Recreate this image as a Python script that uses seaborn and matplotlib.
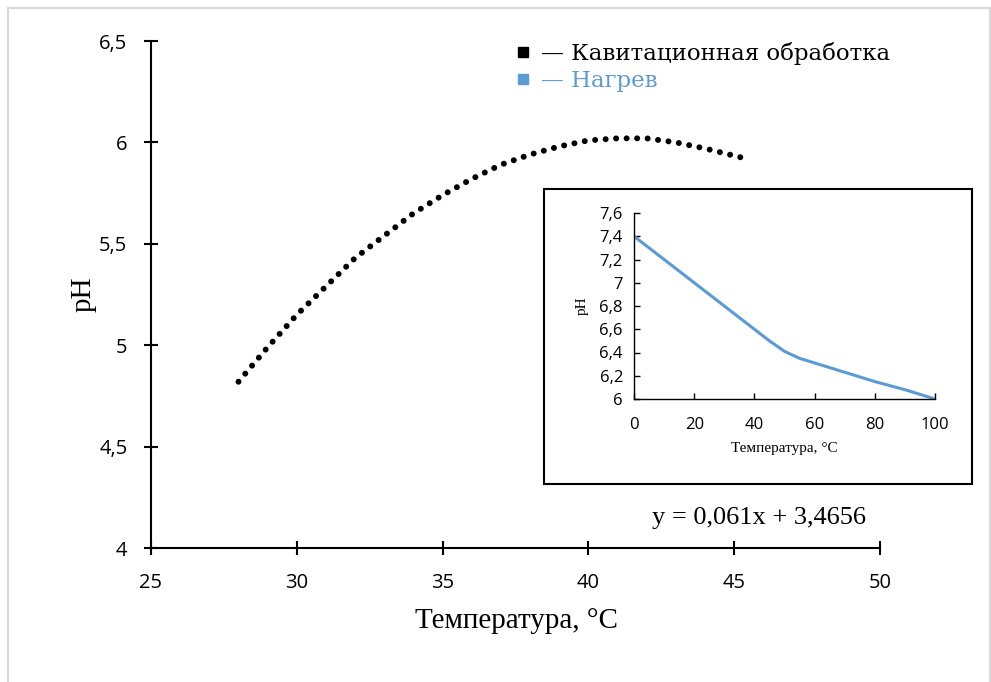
import matplotlib
matplotlib.use("Agg")
import matplotlib.pyplot as plt
import matplotlib.patches as mpatches
from matplotlib.lines import Line2D
from matplotlib.ticker import FuncFormatter, MultipleLocator
import seaborn as sns

# ---- data ----
temp_cav = [28, 29, 30, 31, 32, 33, 34, 35, 36, 37, 38, 39, 40, 41, 42, 43, 44, 45.4]
ph_cav = [4.82, 4.99, 5.15, 5.29, 5.43, 5.54, 5.65, 5.74, 5.82, 5.89, 5.94, 5.98,
          6.01, 6.02, 6.02, 6.00, 5.97, 5.92]

temp_heat = [0, 10, 20, 30, 40, 45, 50, 55, 60, 70, 80, 90, 100]
ph_heat = [7.4, 7.2, 7.0, 6.8, 6.6, 6.5, 6.41, 6.35, 6.31, 6.23, 6.15, 6.08, 6.0]

legend_labels = ["— Кавитационная обработка", "— Нагрев"]
equation = "y = 0,061x + 3,4656"
main_xlabel = "Температура, °C"
main_ylabel = "pH"
inset_xlabel = "Температура, °C"
inset_ylabel = "pH"

BLUE = "#5b9bd5"

sns.set_style("white")
plt.rcParams["font.family"] = ["Open Sans", "DejaVu Sans"]


def comma(v, pos=None):
    s = ("%g" % round(v, 3))
    return s.replace(".", ",")


fig = plt.figure(figsize=(9.91, 6.82), dpi=100)

# outer light border
fig.patches.append(mpatches.Rectangle((8 / 991, -0.01), (990 - 8) / 991, 1 - 8 / 682 + 0.01,
                                      transform=fig.transFigure, fill=False,
                                      edgecolor="#d9d9d9", lw=1.5, zorder=0))

# ---- main axes ----
ax = fig.add_axes([151 / 991, 1 - 548 / 682, (880 - 151) / 991, (548 - 41) / 682])
sns.lineplot(x=temp_cav, y=ph_cav, ax=ax, color="black", lw=4.3,
             linestyle=(0, (0.01, 1.75)))
for ln in ax.lines:
    ln.set_dash_capstyle("round")
ax.set_xlim(25, 50)
ax.set_ylim(4, 6.5)
ax.xaxis.set_major_locator(MultipleLocator(5))
ax.yaxis.set_major_locator(MultipleLocator(0.5))
ax.xaxis.set_major_formatter(FuncFormatter(comma))
ax.yaxis.set_major_formatter(FuncFormatter(comma))
for s in ["top", "right"]:
    ax.spines[s].set_visible(False)
for s in ["left", "bottom"]:
    ax.spines[s].set_color("black")
    ax.spines[s].set_linewidth(1.5)
ax.tick_params(axis="both", which="major", bottom=True, left=True,
               direction="inout", length=10, width=1.5, colors="black",
               labelsize=14.5)
ax.tick_params(axis="y", pad=12)
ax.tick_params(axis="x", pad=13)
ax.set_xlabel(main_xlabel, fontfamily="Liberation Serif", fontsize=21, color="black")
ax.set_ylabel(main_ylabel, fontfamily="Liberation Serif", fontsize=21, color="black")
ax.xaxis.set_label_coords(0.502, -0.118)
ax.yaxis.set_label_coords(-0.075, 0.5)

# equation
fig.text(759 / 991, 1 - 518 / 682, equation, ha="center", va="center",
         fontfamily="Liberation Serif", fontsize=19, color="black")

# legend
handles = [Line2D([], [], marker="s", color="black", linestyle="none", markersize=7),
           Line2D([], [], marker="s", color=BLUE, linestyle="none", markersize=7)]
leg = fig.legend(handles, legend_labels, loc="upper left",
                 bbox_to_anchor=(505 / 991, 1 - 31 / 682), frameon=False,
                 prop={"family": ["DejaVu Serif", "DejaVu Sans"], "size": 16.5},
                 handlelength=0.6, handletextpad=0.45, labelspacing=0.2,
                 borderpad=0, labelcolor=["black", BLUE])

# ---- inset ----
fig.patches.append(mpatches.Rectangle((544 / 991, 1 - 484 / 682), (972 - 544) / 991,
                                      (484 - 189) / 682, transform=fig.transFigure,
                                      facecolor="white", edgecolor="black", lw=1.5,
                                      zorder=1))
iax = fig.add_axes([634 / 991, 1 - 399 / 682, (935 - 634) / 991, (399 - 213) / 682])
iax.set_zorder(3)
iax.patch.set_alpha(0)
sns.lineplot(x=temp_heat, y=ph_heat, ax=iax, color=BLUE, lw=2.2)
iax.set_xlim(0, 100)
iax.set_ylim(6, 7.6)
iax.xaxis.set_major_locator(MultipleLocator(20))
iax.yaxis.set_major_locator(MultipleLocator(0.2))
iax.xaxis.set_major_formatter(FuncFormatter(comma))
iax.yaxis.set_major_formatter(FuncFormatter(comma))
for s in ["top", "right"]:
    iax.spines[s].set_visible(False)
for s in ["left", "bottom"]:
    iax.spines[s].set_color("black")
    iax.spines[s].set_linewidth(1.0)
iax.tick_params(axis="both", which="major", bottom=True, left=True,
                direction="in", length=4, width=1.0, colors="black",
                labelsize=12)
iax.tick_params(axis="y", pad=8)
iax.tick_params(axis="x", pad=13)
iax.set_xlabel(inset_xlabel, fontfamily="Liberation Serif", fontsize=11, color="black")
iax.set_ylabel(inset_ylabel, fontfamily="Liberation Serif", fontsize=11, color="black")
iax.xaxis.set_label_coords(0.5, -0.23)
iax.yaxis.set_label_coords(-0.15, 0.5)

fig.savefig("out.png", dpi=100)
